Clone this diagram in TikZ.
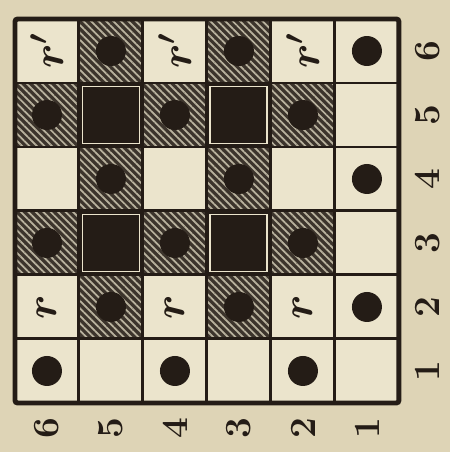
\documentclass[tikz,border=0pt]{standalone}
\usepackage{bm}
\usetikzlibrary{patterns.meta}
\definecolor{paper}{RGB}{222,212,182}
\definecolor{cellc}{RGB}{235,228,204}
\definecolor{ink}{RGB}{36,28,22}
\begin{document}
\begin{tikzpicture}[x=1.28cm, y=1.28cm,
  cellbox/.style={minimum width=1.28cm, minimum height=1.28cm, inner sep=0pt, fill=cellc},
  hatch/.style={cellbox, fill=ink!88!cellc, postaction={pattern={Lines[angle=-45,distance=3pt,line width=1pt]}, pattern color=cellc!75!ink}},
  blk/.style={cellbox, fill=ink},
  sqframe/.style={draw=cellc, line width=1.1pt, minimum size=1.14cm, inner sep=0pt},
  stone/.style={circle, fill=ink, minimum size=0.6cm, inner sep=0pt},
  gridln/.style={draw=ink, line width=1.7pt},
  lab/.style={rotate=90, font=\fontsize{21}{21}\bfseries\selectfont, text=ink},
  letr/.style={rotate=90, font=\fontsize{27}{27}\selectfont, text=ink}]
\fill[paper] (-0.234,-0.766) rectangle (6.797,6.297);
\useasboundingbox (-0.234,-0.766) rectangle (6.797,6.297);
% plain cells
\foreach \x in {1,...,6} {
  \foreach \y in {1,...,6} {\node[cellbox] (c\x\y) at (\x-0.5,\y-0.5) {};}
}
% hatched cells, each with a stone
\foreach \x/\y in {2/6,4/6,1/5,3/5,5/5,2/4,4/4,1/3,3/3,5/3,2/2,4/2} {
  \node[hatch] (h\x\y) at (c\x\y) {};
  \node[stone] (s\x\y) at (h\x\y) {};
}
% black squares
\foreach \x/\y in {2/5,4/5,2/3,4/3} {
  \node[blk] (b\x\y) at (c\x\y) {};
  \node[sqframe] (f\x\y) at (b\x\y) {};
}
% stones on plain cells
\foreach \x/\y in {6/6,6/4,6/2,1/1,3/1,5/1} {\node[stone] (s\x\y) at (c\x\y) {};}
\foreach \x in {1,3,5} {
  \node[letr] (p\x6) at (c\x6) {$\bm{r'}$};
  \node[letr] (p\x2) at (c\x2) {$\bm{r}$};
}
% grid
\foreach \i in {1,...,5} {
  \draw[gridln] (\i,0) -- (\i,6);
  \draw[gridln] (0,\i) -- (6,\i);
}
\draw[ink, line width=2.8pt, rounded corners=1.5pt] (0,0) rectangle (6,6);
% numbering
\foreach \y in {1,...,6} {\node[lab] (rl\y) at (6.45,\y-0.5) {\y};}
\foreach \x/\n in {1/6,2/5,3/4,4/3,5/2,6/1} {\node[lab] (bl\x) at (\x-0.5,-0.39) {\n};}
\end{tikzpicture}
\end{document}
